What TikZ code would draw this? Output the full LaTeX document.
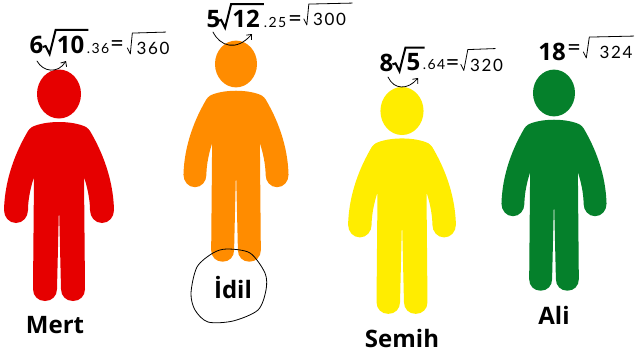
\documentclass[tikz,border=0pt]{standalone}
\usepackage{fontspec}
\setmainfont{Open Sans}
\newfontfamily\handfont[LetterSpace=10]{Lato}
\usetikzlibrary{arrows.meta,calc}
\definecolor{mertred}{HTML}{E60000}
\definecolor{idilorange}{HTML}{FF8C00}
\definecolor{semihyellow}{HTML}{FFED00}
\definecolor{aligreen}{HTML}{05802B}
\tikzset{
  person/.pic={
    \fill (0,0) ellipse [x radius=22,y radius=24.5];
    \fill (0,28) .. controls (-11,28) and (-21,30) .. (-27,33)
      .. controls (-29,34) and (-30,36) .. (-31,37)
      .. controls (-38,49) and (-54,78) .. (-55,116)
      .. controls (-55,123) and (-50,129) .. (-43,129)
      .. controls (-36,129) and (-31,123) .. (-31,116)
      .. controls (-31,105) and (-28,92) .. (-25,83)
      -- (-26,195)
      .. controls (-26,202) and (-21,207) .. (-14,207)
      .. controls (-7,207) and (-2,202) .. (-2,195)
      -- (0,111) -- (2,195)
      .. controls (2,202) and (7,207) .. (14,207)
      .. controls (21,207) and (26,202) .. (26,195)
      -- (25,83)
      .. controls (28,92) and (31,105) .. (31,116)
      .. controls (31,123) and (36,129) .. (43,129)
      .. controls (50,129) and (55,123) .. (55,116)
      .. controls (54,78) and (38,49) .. (31,37)
      .. controls (30,36) and (29,34) .. (27,33)
      .. controls (21,30) and (11,28) .. (0,28) -- cycle;
  },
  boldtext/.style={inner sep=0pt,font=\fontsize{24}{24}\selectfont\bfseries},
  handtext/.style={inner sep=0pt,font=\fontsize{17}{17}\selectfont\handfont},
  smalltext/.style={inner sep=0pt,font=\fontsize{14}{14}\selectfont\handfont},
  eqtext/.style={inner sep=0pt,font=\fontsize{24}{24}\selectfont\handfont},
  handline/.style={draw,line width=0.8pt,line cap=round,line join=round},
  curvearrow/.style={handline,-{Straight Barb[length=4pt,width=7pt]}}
}
\newcommand{\boldroot}[1]{%
  \draw[line width=2pt,line join=miter] ($(#1.south west)+(-14,-7)$) -- ++(3,-1) -- ($(#1.south west)+(-7,0)$)
    -- ($(#1.north west)+(-1,-6)$) -- ($(#1.north east)+(4,-6)$);}
\newcommand{\handroot}[4]{%
  \draw[handline] ($(#1.south west)+(-9-#2,-7)$) -- ($(#1.south west)+(-6-#2,-1)$)
    -- ($(#1.north west)+(-#3,-9)$) -- ($(#1.north east)+(#4,-10)$);}
\begin{document}
\begin{tikzpicture}[x=1pt,y=-1pt]
\useasboundingbox (0,0) rectangle (635,354);
\fill[white] (0,0) rectangle (635,354);

\pic[mertred] at (59,94) {person};
\pic[idilorange,scale=0.955] at (236,64) {person};
\pic[semihyellow,scale=0.98] at (402,111) {person};
\pic[aligreen,scale=0.955] at (554,93) {person};

\node[boldtext] (mertname) at (55,325) {Mert};
\node[boldtext] (idilname) at (233,288) {İdil};
\node[boldtext] (semihname) at (402,338) {Semih};
\node[boldtext] (aliname) at (554,315) {Ali};

\draw[handline] plot[smooth cycle] coordinates {(213,253) (227,249) (250,253) (265,273) (266,290) (258,310) (233,321) (208,322) (195,310) (191,293) (197,267)};

\node[boldtext] (mertcoef) at (36.5,45) {6};
\node[boldtext] (mertroot) at (70.5,45) {10};
\boldroot{mertroot}
\node[smalltext] (mertdot) at (98,48) {.36};
\node[eqtext] (merteq) at (117,46) {=};
\node[handtext] (mertsum) at (153,48.5) {360};
\handroot{mertsum}{0}{4}{-4}
\coordinate (mertfrom) at (37,61);
\coordinate (mertto) at (66,61);
\draw[curvearrow] (mertfrom) .. controls (43,72) and (58,74) .. (mertto);

\node[boldtext] (idilcoef) at (213.5,19) {5};
\node[boldtext] (idilroot) at (246,19) {12};
\boldroot{idilroot}
\node[smalltext] (idildot) at (275,22) {.25};
\node[eqtext] (idileq) at (295,21) {=};
\node[handtext] (idilsum) at (329.5,19.5) {300};
\handroot{idilsum}{0}{4}{6}
\coordinate (idilfrom) at (213,32);
\coordinate (idilto) at (252,34);
\draw[curvearrow] (idilfrom) .. controls (220,46) and (236,52) .. (idilto);

\node[boldtext] (semihcoef) at (386.5,62.5) {8};
\node[boldtext] (semihroot) at (413.5,62.5) {5};
\boldroot{semihroot}
\node[smalltext] (semihdot) at (434,65) {.64};
\node[eqtext] (semiheq) at (452.5,65) {=};
\node[handtext] (semihsum) at (486.5,65) {320};
\handroot{semihsum}{0}{2}{-8}
\coordinate (semihfrom) at (388,77);
\coordinate (semihto) at (418,78);
\draw[curvearrow] (semihfrom) .. controls (394,90) and (408,90) .. (semihto);

\node[boldtext] (alicoef) at (552,51.5) {18};
\node[eqtext] (alieq) at (574,50) {=};
\node[handtext] (alisum) at (616,52.5) {324};
\handroot{alisum}{7}{10}{1}
\end{tikzpicture}
\end{document}
